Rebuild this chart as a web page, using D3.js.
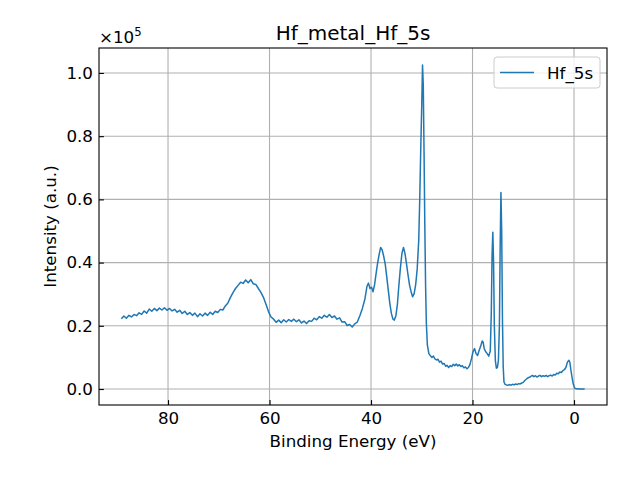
<!DOCTYPE html>
<html lang="en">
<head>
<meta charset="UTF-8">
<title>Hf_metal_Hf_5s</title>
<script src="https://d3js.org/d3.v7.min.js"></script>
<style>
  body { margin: 0; background: #fff; }
  text { font-family: "DejaVu Sans", sans-serif; fill: #000; }
</style>
</head>
<body>
<div id="chart"></div>
<script>
// binding energy (eV) and intensity (x1e5 counts)
const energy = [
  89.2, 88.7, 88.2, 87.7, 87.2, 86.7, 86.2, 85.7, 85.2, 84.7, 84.2, 83.7, 83.2, 82.7, 82.2, 81.7, 81.2, 80.7, 80.2, 79.7,
  79.2, 78.7, 78.2, 77.7, 77.2, 76.7, 76.2, 75.7, 75.2, 74.7, 74.2, 73.7, 73.2, 72.7, 72.2, 71.7, 71.2, 70.7, 70.2, 69.7,
  69.2, 68.7, 68.2, 67.7, 67.2, 66.7, 66.2, 65.7, 65.2, 64.7, 64.2, 63.7, 63.2, 62.7, 62.2, 61.7, 61.2, 60.7, 60.2, 59.7,
  59.2, 58.7, 58.2, 57.7, 57.2, 56.7, 56.2, 55.7, 55.2, 54.7, 54.2, 53.7, 53.2, 52.7, 52.2, 51.7, 51.2, 50.7, 50.2, 49.7,
  49.2, 48.7, 48.2, 47.7, 47.2, 46.7, 46.2, 45.7, 45.2, 44.7, 44.2, 43.7, 43.2, 42.7, 42.2, 41.7, 41.2, 40.8, 40.5, 40.2,
  39.9, 39.6, 39.3, 39.0, 38.7, 38.4, 38.1, 37.8, 37.5, 37.2, 36.9, 36.6, 36.3, 36.0, 35.7, 35.4, 35.1, 34.8, 34.5, 34.2,
  33.9, 33.6, 33.3, 33.0, 32.7, 32.4, 32.1, 31.8, 31.5, 31.2, 30.9, 30.6, 30.4, 30.2, 30.0, 29.85, 29.7, 29.55, 29.4, 29.25,
  29.1, 28.9, 28.6, 28.3, 28.0, 27.7, 27.4, 27.1, 26.8, 26.5, 26.2, 25.9, 25.6, 25.3, 25.0, 24.7, 24.4, 24.1, 23.8, 23.5,
  23.2, 22.9, 22.6, 22.3, 22.0, 21.7, 21.4, 21.1, 20.8, 20.5, 20.2, 19.9, 19.6, 19.3, 19.0, 18.7, 18.4, 18.1, 17.9, 17.7,
  17.4, 17.1, 16.8, 16.5, 16.3, 16.15, 16.0, 15.85, 15.7, 15.5, 15.3, 15.1, 14.9, 14.7, 14.55, 14.4, 14.25, 14.1, 13.95, 13.8,
  13.6, 13.3, 13.0, 12.7, 12.4, 12.1, 11.8, 11.5, 11.2, 10.9, 10.6, 10.3, 10.0, 9.7, 9.4, 9.1, 8.8, 8.5, 8.2, 7.9,
  7.6, 7.3, 7.0, 6.7, 6.4, 6.1, 5.8, 5.5, 5.2, 4.9, 4.6, 4.3, 4.0, 3.7, 3.4, 3.1, 2.8, 2.5, 2.2, 1.9,
  1.6, 1.3, 1.0, 0.8, 0.6, 0.4, 0.2, 0.0, -0.2, -0.5, -1.0, -1.5, -2.1
];
const intensity = [
  0.222, 0.231, 0.224, 0.233, 0.228, 0.236, 0.232, 0.241, 0.236, 0.247, 0.240, 0.253, 0.246, 0.255, 0.248, 0.256, 0.250, 0.257, 0.249, 0.255,
  0.247, 0.252, 0.243, 0.249, 0.239, 0.246, 0.236, 0.242, 0.233, 0.240, 0.229, 0.238, 0.231, 0.240, 0.233, 0.243, 0.236, 0.246, 0.242, 0.252,
  0.250, 0.263, 0.272, 0.290, 0.305, 0.318, 0.328, 0.338, 0.334, 0.345, 0.336, 0.346, 0.333, 0.331, 0.318, 0.306, 0.290, 0.268, 0.245, 0.228,
  0.221, 0.211, 0.218, 0.210, 0.219, 0.212, 0.220, 0.214, 0.221, 0.213, 0.219, 0.209, 0.215, 0.207, 0.216, 0.214, 0.224, 0.219, 0.229, 0.224,
  0.233, 0.227, 0.236, 0.226, 0.231, 0.221, 0.225, 0.212, 0.213, 0.201, 0.204, 0.196, 0.206, 0.212, 0.232, 0.255, 0.285, 0.325, 0.335, 0.318,
  0.322, 0.308, 0.330, 0.365, 0.398, 0.425, 0.448, 0.440, 0.420, 0.395, 0.355, 0.313, 0.272, 0.240, 0.222, 0.218, 0.232, 0.268, 0.330, 0.385,
  0.430, 0.448, 0.428, 0.395, 0.360, 0.328, 0.308, 0.292, 0.302, 0.330, 0.380, 0.470, 0.600, 0.760, 0.900, 1.025, 0.960, 0.750, 0.520, 0.330,
  0.210, 0.140, 0.112, 0.105, 0.100, 0.104, 0.095, 0.092, 0.094, 0.085, 0.088, 0.079, 0.081, 0.072, 0.075, 0.068, 0.074, 0.071, 0.078, 0.074,
  0.079, 0.073, 0.077, 0.071, 0.074, 0.067, 0.070, 0.064, 0.068, 0.078, 0.096, 0.118, 0.128, 0.112, 0.106, 0.122, 0.135, 0.152, 0.148, 0.128,
  0.118, 0.112, 0.104, 0.120, 0.240, 0.420, 0.496, 0.400, 0.200, 0.090, 0.066, 0.068, 0.090, 0.200, 0.450, 0.622, 0.500, 0.220, 0.070, 0.022,
  0.015, 0.013, 0.012, 0.014, 0.012, 0.015, 0.013, 0.016, 0.014, 0.017, 0.016, 0.019, 0.021, 0.027, 0.031, 0.035, 0.037, 0.040, 0.043, 0.039,
  0.042, 0.038, 0.041, 0.043, 0.039, 0.042, 0.040, 0.043, 0.039, 0.042, 0.044, 0.041, 0.046, 0.044, 0.050, 0.048, 0.054, 0.052, 0.058, 0.061,
  0.068, 0.085, 0.091, 0.083, 0.058, 0.038, 0.020, 0.008, 0.002, 0.0005, 0.0, 0.0003, 0.0
];
const xTicks = [80, 60, 40, 20, 0];
const yTicks = [0.0, 0.2, 0.4, 0.6, 0.8, 1.0];
const seriesName = "Hf_5s";

const W = 640, H = 480;
const margin = { top: 48, right: 33, bottom: 75, left: 99 };
const width = W - margin.left - margin.right;
const height = H - margin.top - margin.bottom;
const fs = "16.7px";

const svg = d3.select("#chart").append("svg")
  .attr("width", W).attr("height", H);
const g = svg.append("g").attr("transform", `translate(${margin.left},${margin.top})`);

// reversed energy axis like the original
const x = d3.scaleLinear().domain([93.6, -6.5]).range([0, width]);
const y = d3.scaleLinear().domain([-0.0506, 1.079]).range([height, 0]);

// grid
g.append("g").selectAll("line").data(xTicks).join("line")
  .attr("x1", d => x(d)).attr("x2", d => x(d))
  .attr("y1", 0).attr("y2", height)
  .attr("stroke", "#b0b0b0").attr("stroke-width", 1.1);
g.append("g").selectAll("line").data(yTicks).join("line")
  .attr("y1", d => y(d)).attr("y2", d => y(d))
  .attr("x1", 0).attr("x2", width)
  .attr("stroke", "#b0b0b0").attr("stroke-width", 1.1);

// spectrum
const pts = energy.map((e, i) => [e, intensity[i]]);
g.append("path").datum(pts)
  .attr("fill", "none")
  .attr("stroke", "#1f77b4")
  .attr("stroke-width", 1.5)
  .attr("stroke-linejoin", "round")
  .attr("d", d3.line().x(d => x(d[0])).y(d => y(d[1])));

// axes, ticks pointing inward
const xAxis = g.append("g").attr("transform", `translate(0,${height})`)
  .call(d3.axisBottom(x).tickValues(xTicks).tickFormat(d3.format("d")).tickSizeInner(-4.9).tickSizeOuter(0).tickPadding(7));
const yAxis = g.append("g")
  .call(d3.axisLeft(y).tickValues(yTicks).tickFormat(d3.format(".1f")).tickSizeInner(-4.9).tickSizeOuter(0).tickPadding(6));
[xAxis, yAxis].forEach(a => {
  a.select(".domain").remove();
  a.selectAll("line").attr("stroke", "#000").attr("stroke-width", 1.1);
  a.selectAll("text").style("font-size", fs).attr("fill", "#000")
    .style("font-family", "'DejaVu Sans', sans-serif");
});

// frame
g.append("rect").attr("width", width).attr("height", height)
  .attr("fill", "none").attr("stroke", "#000").attr("stroke-width", 1.1);

// labels
svg.append("text").attr("x", margin.left + width / 2).attr("y", 40)
  .attr("text-anchor", "middle").style("font-size", "20px").text("Hf_metal_Hf_5s");
svg.append("text").attr("x", margin.left + width / 2).attr("y", 447)
  .attr("text-anchor", "middle").style("font-size", fs).text("Binding Energy (eV)");
svg.append("text").attr("transform", `translate(56,${margin.top + height / 2}) rotate(-90)`)
  .attr("text-anchor", "middle").style("font-size", fs).text("Intensity (a.u.)");
const off = svg.append("text").attr("x", 99).attr("y", 43).style("font-size", fs);
off.append("tspan").text("×10");
off.append("tspan").attr("dy", -7).style("font-size", "11.7px").text("5");

// legend
const lg = svg.append("g").attr("transform", "translate(494,57)");
lg.append("rect").attr("width", 106).attr("height", 31).attr("rx", 3)
  .attr("fill", "#fff").attr("fill-opacity", 0.8)
  .attr("stroke", "#cccccc").attr("stroke-width", 1);
lg.append("line").attr("x1", 6).attr("x2", 40).attr("y1", 15.5).attr("y2", 15.5)
  .attr("stroke", "#1f77b4").attr("stroke-width", 1.5);
lg.append("text").attr("x", 53).attr("y", 21.5).style("font-size", fs).text(seriesName);
</script>
</body>
</html>
